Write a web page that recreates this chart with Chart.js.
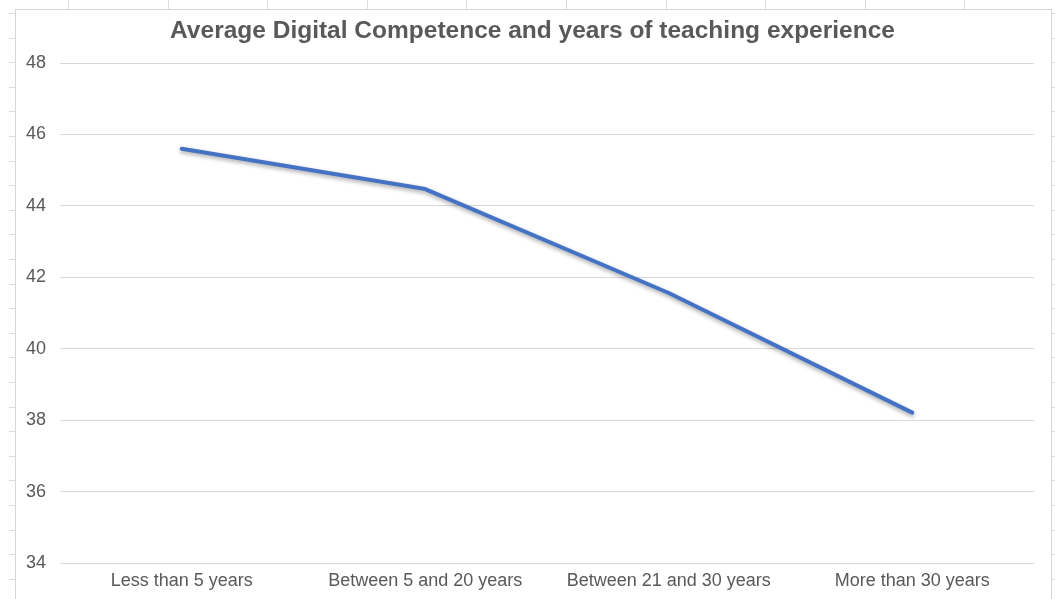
<!DOCTYPE html>
<html>
<head>
<meta charset="utf-8">
<script src="https://cdn.jsdelivr.net/npm/chart.js@4/dist/chart.umd.min.js"></script>
<style>
  html, body { margin: 0; padding: 0; background: #fff; overflow: hidden; }
  #page { position: relative; width: 1055px; height: 599px; }
  /* spreadsheet cells peeking out behind the chart */
  .colTicks { position: absolute; left: 0; top: 0; width: 1055px; height: 9px;
    background: repeating-linear-gradient(90deg, transparent 0, transparent 68px, #dcdcdc 68px, #dcdcdc 69px, transparent 69px, transparent 99.6px); }
  .rowTicksL { position: absolute; left: 9px; top: 0; width: 6px; height: 599px;
    background: repeating-linear-gradient(180deg, transparent 0, transparent 13px, #dcdcdc 13px, #dcdcdc 14px, transparent 14px, transparent 24.6px); }
  .rowTicksR { position: absolute; left: 1052px; top: 0; width: 3px; height: 599px;
    background: repeating-linear-gradient(180deg, transparent 0, transparent 13px, #dcdcdc 13px, #dcdcdc 14px, transparent 14px, transparent 24.6px); }
  .frame { position: absolute; left: 15px; top: 9px; width: 1035px; height: 620px;
    border: 1px solid #d6d6d6; background: #fff; }
  #wrap { position: absolute; left: 0; top: 0; width: 1055px; height: 599px; }
</style>
</head>
<body>
<div id="page">
  <div class="colTicks"></div>
  <div class="rowTicksL"></div>
  <div class="rowTicksR"></div>
  <div class="frame"></div>
  <div id="wrap"><canvas id="chart" width="1055" height="599"></canvas></div>
</div>
<script>
// data
const experienceGroups = ['Less than 5 years', 'Between 5 and 20 years', 'Between 21 and 30 years', 'More than 30 years'];
const avgCompetence = [45.6, 44.47, 41.56, 38.21];
const yTicks = [34, 36, 38, 40, 42, 44, 46, 48];

const textGrey = '#595959';
const fontFamily = 'Liberation Sans, Arial, Helvetica, sans-serif';

// soft drop shadow under the line, like the office chart
const lineShadow = {
    id: 'lineShadow',
    beforeDatasetDraw(chart) {
        const ctx = chart.ctx;
        ctx.save();
        ctx.shadowColor = 'rgba(0,0,0,0.35)';
        ctx.shadowBlur = 4;
        ctx.shadowOffsetX = 0;
        ctx.shadowOffsetY = 2;
    },
    afterDatasetDraw(chart) {
        chart.ctx.restore();
    }
};

new Chart(document.getElementById('chart'), {
    type: 'line',
    data: {
        labels: experienceGroups,
        datasets: [{
            label: 'Average Digital Competence',
            data: avgCompetence,
            borderColor: '#4472C4',
            borderWidth: 4,
            borderCapStyle: 'round',
            borderJoinStyle: 'round',
            pointRadius: 0,
            pointHoverRadius: 0,
            tension: 0,
            fill: false
        }]
    },
    options: {
        responsive: false,
        animation: false,
        layout: { padding: { left: 10, right: 0, top: 0, bottom: 0 } },
        plugins: {
            legend: { display: false },
            tooltip: { enabled: false },
            title: {
                display: true,
                text: 'Average Digital Competence and years of teaching experience',
                color: textGrey,
                font: { family: fontFamily, size: 24.5, weight: 'bold' },
                padding: { top: 16.3, bottom: 17.3 }
            }
        },
        scales: {
            x: {
                offset: true,
                grid: { display: false, drawTicks: false },
                border: { display: false },
                ticks: {
                    color: textGrey,
                    padding: 7,
                    maxRotation: 0,
                    font: { family: fontFamily, size: 18 }
                },
                afterFit(scale) { scale.height = 36; }
            },
            y: {
                min: 34,
                max: 48,
                afterBuildTicks(scale) { scale.ticks = yTicks.map(v => ({ value: v })); },
                grid: { color: '#d9d9d9', lineWidth: 1, drawTicks: false },
                border: { display: false },
                ticks: {
                    color: textGrey,
                    padding: 14,
                    font: { family: fontFamily, size: 18 }
                },
                afterFit(scale) { scale.width = 50; }
            },
            // empty spacer on the right so the plot ends where the reference does
            yRight: {
                position: 'right',
                min: 34,
                max: 48,
                grid: { display: false, drawTicks: false },
                border: { display: false },
                ticks: { display: false },
                afterFit(scale) { scale.width = 21; }
            }
        }
    },
    plugins: [lineShadow]
});
</script>
</body>
</html>
